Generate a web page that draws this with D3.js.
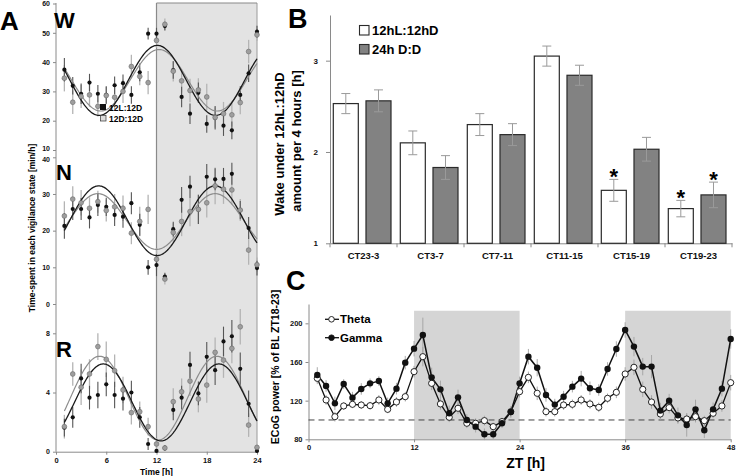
<!DOCTYPE html>
<html><head><meta charset="utf-8">
<script src="https://cdn.jsdelivr.net/npm/d3@7"></script>
<style>
body{margin:0;background:#fff}
svg{display:block;font-family:"Liberation Sans",Arial,sans-serif;font-weight:bold}
</style>
</head><body><script>
// ---------- Panel A data ----------
const hoursA = [1,2,3,4,5,6,7,8,9,10,11,12,13,14,15,16,17,18,19,20,21,22,23,24];
const wBlack = [37.4,31.9,29.2,33.0,29.2,28.8,32.1,32.8,28.8,36.5,49.7,49.7,52.3,37.3,28.1,22.4,29.5,18.9,21.0,18.3,16.7,28.8,36.2,50.4];
const wBlackErr = [4,3,3.5,3,3,3,3,3,3,3,2,2,1.5,3,3.5,3.5,3.5,3,4,3.5,3,3,3,2];
const wGray = [34.5,26.3,28.3,28.8,24.9,28.6,28.0,30.0,38.5,35.1,33.0,47.4,52.9,36.9,33.6,30.3,30.5,28.1,21.1,22.4,22.0,26.2,43.6,49.3];
const wGrayErr = [4.5,4,4,4,3.5,3,4,4,4,3,4,2.5,2,3.5,4,4,4,4.5,3.5,4,4,4,4,2];
const nBlack = [21.3,25.9,25.9,23.6,27.0,26.5,24.3,23.8,27.5,21.6,10.0,10.6,7.5,20.4,28.4,32.0,25.8,34.7,34.0,34.1,35.5,25.6,20.7,9.8];
const nBlackErr = [3.5,3,3,3,3,2.5,3,3,3,3,2,3,1,2,3.5,3,4,3.5,3,3,3,2.5,3,2];
const nGray = [24.0,28.6,27.6,26.1,27.9,25.5,26.5,26.1,19.3,22.5,25.8,12.2,6.8,19.5,22.5,25.2,25.8,27.6,32.2,31.3,31.1,25.6,14.7,10.7];
const nGrayErr = [4,3.5,3.5,3,3,3,3.5,3.5,3,4,4,3,1.5,2.5,4,4,4,4,5,4,4,3,4,2];
const rBlack = [1.62,2.32,4.95,3.65,3.83,4.55,3.83,3.58,4.0,2.32,0.52,0.05,0.25,2.82,3.65,5.86,3.94,6.41,5.51,7.45,7.8,5.6,3.24,0.05];
const rBlackErr = [0.6,0.7,1.0,0.8,0.9,0.8,0.9,0.8,0.8,0.7,0.4,0.1,0.2,0.7,0.8,0.9,0.8,1.0,1.0,1.0,1.1,1.1,0.9,0.1];
const rGray = [1.69,5.25,4.35,5.25,7.1,6.24,5.47,4.17,2.64,2.7,1.69,0.52,0.25,3.38,4.05,4.77,3.56,4.5,6.71,6.19,6.98,8.44,1.8,0.29];
const rGrayErr = [0.8,0.8,1.2,1.0,0.9,1.2,1.1,0.9,0.8,0.7,0.6,0.4,0.2,0.9,0.9,1.0,0.9,1.2,1.0,1.2,1.0,1.2,0.8,0.2];
// cosinor fits: [mesor, amplitude, acrophase (h), period (h)]
const fitWBlack = [33.75,11.95,12.1,13.9];
const fitWGray  = [33.8,10.5,12.3,13.9];
const fitNBlack = [22.7,9.5,5.1,13.9];
const fitNGray  = [22.5,7.6,5.0,14.0];
const fitRBlack = [3.33,2.6,5.65,13.8];
const fitRGray  = [3.62,2.83,5.2,14.0];
const ticksW = [10,20,30,40,50,60];
const ticksN = [0,10,20,30,40];
const ticksR = [0,4,8];
const ticksTimeA = [0,6,12,18,24];
const legendA = ["12L:12D","12D:12D"];

// ---------- Panel B data ----------
const phaseCats = ["CT23-3","CT3-7","CT7-11","CT11-15","CT15-19","CT19-23"];
const seriesB = ["12hL:12hD","24h D:D"];
const wakeLD = [2.53,2.10,2.30,3.05,1.58,1.38];
const wakeLDErr = [0.11,0.13,0.12,0.11,0.12,0.09];
const wakeDD = [2.56,1.83,2.19,2.84,2.03,1.53];
const wakeDDErr = [0.12,0.13,0.12,0.11,0.13,0.14];
const starLD = [false,false,false,false,true,true];
const starDD = [false,false,false,false,false,true];
const ticksB = [1,2,3];

// ---------- Panel C data ----------
const ztHours = [1,2,3,4,5,6,7,8,9,10,11,12,13,14,15,16,17,18,19,20,21,22,23,24,25,26,27,28,29,30,31,32,33,34,35,36,37,38,39,40,41,42,43,44,45,46,47,48];
const gamma = [146.6,135.2,117.2,137.2,123.1,132.1,137.9,140.3,117.2,132.4,159.3,173.8,187.9,144.1,131.7,106.9,123.4,100,93.1,85.2,85.2,96.6,108.3,137.9,165.5,154.1,125.9,115.9,124.1,134.5,142.8,132.8,131.0,152.8,173.4,193.1,175.9,155.2,155.2,109.7,120.0,104.8,94.8,111.0,89.3,111.0,132.4,183.8];
const gammaErr = [8,6,7,5,6,6,5,5,6,6,7,8,18,10,9,8,8,6,6,6,5,5,6,7,8,9,7,6,6,6,8,7,6,7,8,8,10,9,12,8,7,8,12,10,8,7,8,10];
const theta = [143.1,120.7,103.4,114.5,116.2,115.5,114.8,120.7,111.0,118.6,124.1,150.0,165.5,137.9,116.6,102.8,112.1,96.6,96.6,99.3,93.1,98.3,108.6,129.3,144.1,127.6,108.6,108.6,115.5,116.2,120.7,116.6,113.1,122.4,128.6,147.6,154.5,131.7,118.6,106.2,112.8,102.1,101.0,103.4,99.3,106.9,114.5,138.6];
const thetaErr = [6,5,5,4,4,4,4,5,4,5,5,6,10,7,6,5,6,5,5,5,4,4,5,6,6,7,5,5,5,5,5,5,5,5,6,7,8,8,7,6,6,6,6,6,5,5,6,8];
const darkC = [[12,24],[36,48]];
const ticksZT = [0,12,24,36,48];
const ticksC = [80,120,160,200];
const legendC = ["Theta","Gamma"];

// ---------- drawing ----------
const svg = d3.select("body").append("svg").attr("width",736).attr("height",476);
svg.append("rect").attr("width",736).attr("height",476).attr("fill","#fff");

function styleAxis(g, fs){
  g.selectAll("path.domain").attr("stroke","#8a8a8a");
  g.selectAll(".tick line").attr("stroke","#8a8a8a");
  g.selectAll(".tick text").attr("fill","#111").style("font-size",fs+"px").style("font-weight","bold")
   .style("font-family",'"Liberation Sans",Arial,sans-serif');
}

// ===== Panel A =====
const xA = d3.scaleLinear().domain([0,24]).range([56,257]);
const yW = d3.scaleLinear().domain([10,60]).range([150,3.5]);
const yN = d3.scaleLinear().domain([0,40]).range([304,157.3]);
const yR = d3.scaleLinear().domain([0,10]).range([451.7,303.7]);
const gA = svg.append("g");
gA.append("rect").attr("x",xA(12)).attr("y",3).attr("width",xA(24)-xA(12)).attr("height",yR(0)-3).attr("fill","#e3e3e3");
gA.append("line").attr("x1",xA(12)).attr("x2",xA(12)).attr("y1",3).attr("y2",yR(0)).attr("stroke","#8a8a8a").attr("stroke-width",1.2);
gA.append("line").attr("x1",xA(24)).attr("x2",xA(24)).attr("y1",3).attr("y2",yR(0)).attr("stroke","#9a9a9a");
gA.append("line").attr("x1",xA(12)).attr("x2",xA(24)).attr("y1",3).attr("y2",3).attr("stroke","#8a8a8a").attr("stroke-width",1.2);
gA.append("line").attr("x1",56).attr("x2",56).attr("y1",3).attr("y2",yR(0)).attr("stroke","#8a8a8a");

[[yW,ticksW,"W"],[yN,ticksN,"N"],[yR,ticksR,"R"]].forEach(([y,t,k])=>{
  const ax = gA.append("g").attr("transform","translate(56,0)")
    .call(d3.axisLeft(y).tickValues(t).tickSize(3).tickPadding(3));
  ax.select("path.domain").remove();
  styleAxis(ax,7);
  // separate the stacked "10" (W) and "40" (N) labels slightly, as in the original
  ax.selectAll(".tick text").attr("dy", d => (k==="W" && d===10) ? "0.1em" : (k==="N" && d===40) ? "0.55em" : "0.32em");
});
const axBA = gA.append("g").attr("transform",`translate(0,${yR(0)})`)
  .call(d3.axisBottom(xA).tickValues(ticksTimeA).tickSize(3).tickSizeOuter(0).tickPadding(3));
styleAxis(axBA,7.5);

const fitLine = (p, y) => {
  const ts = d3.range(1, 24.001, 0.1);
  return d3.line().x(t=>xA(t)).y(t=>y(p[0]+p[1]*Math.cos(2*Math.PI*(t-p[2])/p[3])))(ts);
};
const panelsA = [
  {y:yW, b:wBlack, be:wBlackErr, g:wGray, ge:wGrayErr, fb:fitWBlack, fg:fitWGray},
  {y:yN, b:nBlack, be:nBlackErr, g:nGray, ge:nGrayErr, fb:fitNBlack, fg:fitNGray},
  {y:yR, b:rBlack, be:rBlackErr, g:rGray, ge:rGrayErr, fb:fitRBlack, fg:fitRGray}
];
panelsA.forEach(P=>{
  const y = P.y;
  gA.append("g").selectAll("line").data(hoursA).join("line")
    .attr("x1",(d)=>xA(d)).attr("x2",(d)=>xA(d))
    .attr("y1",(d,i)=>y(P.g[i]-P.ge[i])).attr("y2",(d,i)=>y(P.g[i]+P.ge[i]))
    .attr("stroke","#b4b4b4").attr("stroke-width",1.3);
  gA.append("g").selectAll("line").data(hoursA).join("line")
    .attr("x1",(d)=>xA(d)).attr("x2",(d)=>xA(d))
    .attr("y1",(d,i)=>y(P.b[i]-P.be[i])).attr("y2",(d,i)=>y(P.b[i]+P.be[i]))
    .attr("stroke","#555").attr("stroke-width",1.1);
  gA.append("path").attr("d",fitLine(P.fg,y)).attr("fill","none").attr("stroke","#8c8c8c").attr("stroke-width",1.2);
  gA.append("path").attr("d",fitLine(P.fb,y)).attr("fill","none").attr("stroke","#1a1a1a").attr("stroke-width",1.3);
  gA.append("g").selectAll("circle").data(hoursA).join("circle")
    .attr("cx",d=>xA(d)).attr("cy",(d,i)=>y(P.b[i])).attr("r",2.1).attr("fill","#111");
  gA.append("g").selectAll("circle").data(hoursA).join("circle")
    .attr("cx",d=>xA(d)).attr("cy",(d,i)=>y(P.g[i])).attr("r",2.4).attr("fill","#9e9e9e").attr("stroke","#6a6a6a").attr("stroke-width",0.6);
});
[["W",54,28],["N",56,180],["R",56,357]].forEach(([t,x,y])=>{
  gA.append("text").attr("x",x).attr("y",y).text(t).style("font-size","22px").attr("fill","#000");
});
gA.append("text").attr("x",0).attr("y",30).text("A").style("font-size","26px");
// legend A
gA.append("rect").attr("x",100).attr("y",104).attr("width",6).attr("height",6).attr("fill","#111");
gA.append("rect").attr("x",100.5).attr("y",115.5).attr("width",5.5).attr("height",5.5).attr("fill","#ddd").attr("stroke","#333").attr("stroke-width",0.7);
gA.append("text").attr("x",109).attr("y",110.5).text(legendA[0]).style("font-size","8.5px");
gA.append("text").attr("x",109).attr("y",121.5).text(legendA[1]).style("font-size","8.5px");
gA.append("text").attr("x",xA(12)).attr("y",474.5).attr("text-anchor","middle").text("Time [h]").style("font-size","8.5px");
gA.append("text").attr("transform","translate(35,228) rotate(-90)").attr("text-anchor","middle")
  .text("Time-spent in each vigilance state [min/h]").style("font-size","8.5px");

// ===== Panel B =====
const xB = d3.scaleBand().domain(phaseCats).range([330,732]);
const xSub = d3.scaleBand().domain(seriesB).range([3.3,61]).paddingInner(0.235);
const yB = d3.scaleLinear().domain([1,3.5]).range([243.3,15]);
const gB = svg.append("g");
const axBL = gB.append("g").attr("transform","translate(330,0)")
  .call(d3.axisLeft(yB).tickValues(ticksB).tickFormat(d3.format("d")).tickSize(4).tickSizeOuter(0).tickPadding(8));
styleAxis(axBL,8);
const axBB = gB.append("g").attr("transform",`translate(0,${yB(1)})`)
  .call(d3.axisBottom(xB).tickSize(0).tickPadding(9));
styleAxis(axBB,9.5);
// boundary ticks
gB.append("g").selectAll("line").data(phaseCats.concat(["end"])).join("line")
  .attr("x1",(d,i)=> i<phaseCats.length ? xB(d) : xB.range()[1])
  .attr("x2",(d,i)=> i<phaseCats.length ? xB(d) : xB.range()[1])
  .attr("y1",yB(1)).attr("y2",yB(1)+4).attr("stroke","#8a8a8a");
const barSets = [
  {s:seriesB[0], v:wakeLD, e:wakeLDErr, fill:"#fff", star:starLD},
  {s:seriesB[1], v:wakeDD, e:wakeDDErr, fill:"#828282", star:starDD}
];
barSets.forEach(S=>{
  const bx = c => xB(c)+xSub(S.s);
  gB.append("g").selectAll("rect").data(phaseCats).join("rect")
    .attr("x",d=>bx(d)).attr("width",xSub.bandwidth())
    .attr("y",(d,i)=>yB(S.v[i])).attr("height",(d,i)=>yB(1)-yB(S.v[i]))
    .attr("fill",S.fill).attr("stroke","#2a2a2a").attr("stroke-width",1.2);
  const cx = c => bx(c)+xSub.bandwidth()/2;
  const eg = gB.append("g").attr("stroke","#9a9a9a").attr("stroke-width",1);
  eg.selectAll("line.v").data(phaseCats).join("line").attr("class","v")
    .attr("x1",d=>cx(d)).attr("x2",d=>cx(d))
    .attr("y1",(d,i)=>yB(S.v[i]-S.e[i])).attr("y2",(d,i)=>yB(S.v[i]+S.e[i]));
  ["lo","hi"].forEach((k,j)=>{
    eg.selectAll("line."+k).data(phaseCats).join("line").attr("class",k)
      .attr("x1",d=>cx(d)-4.5).attr("x2",d=>cx(d)+4.5)
      .attr("y1",(d,i)=>yB(S.v[i]+(j?1:-1)*S.e[i])).attr("y2",(d,i)=>yB(S.v[i]+(j?1:-1)*S.e[i]));
  });
  gB.append("g").selectAll("text").data(phaseCats.filter((d,i)=>S.star[i])).join("text")
    .attr("x",d=>cx(d)).attr("text-anchor","middle")
    .attr("y",d=>{const i=phaseCats.indexOf(d);return yB(S.v[i]+S.e[i])+5;})
    .text("*").style("font-size","22px");
});
gB.append("text").attr("x",288).attr("y",28).text("B").style("font-size","27px");
gB.append("rect").attr("x",359.5).attr("y",25.5).attr("width",9.5).attr("height",9.5).attr("fill","#fff").attr("stroke","#2a2a2a").attr("stroke-width",1.1);
gB.append("rect").attr("x",359.5).attr("y",44.5).attr("width",9.5).attr("height",9.5).attr("fill","#828282").attr("stroke","#2a2a2a").attr("stroke-width",1.1);
gB.append("text").attr("x",372).attr("y",35).text(seriesB[0]).style("font-size","13px");
gB.append("text").attr("x",372).attr("y",54).text(seriesB[1]).style("font-size","13px");
gB.append("text").attr("transform","translate(284,144) rotate(-90)").attr("text-anchor","middle")
  .text("Wake under 12hL:12hD").style("font-size","13px");
gB.append("text").attr("transform","translate(301,141) rotate(-90)").attr("text-anchor","middle")
  .text("amount per 4 hours [h]").style("font-size","13px");

// ===== Panel C =====
const xC = d3.scaleLinear().domain([0,48]).range([308.5,730.7]);
const yC = d3.scaleLinear().domain([80,220]).range([439.3,304]);
const gC = svg.append("g");
gC.append("g").selectAll("rect").data(darkC).join("rect")
  .attr("x",d=>xC(d[0])).attr("width",d=>xC(d[1])-xC(d[0]))
  .attr("y",yC(213)).attr("height",yC(80)-yC(213)).attr("fill","#d5d5d5");
const axCL = gC.append("g").attr("transform",`translate(${xC(0)},0)`)
  .call(d3.axisLeft(yC).tickValues(ticksC).tickSize(3).tickSizeOuter(0).tickPadding(3));
styleAxis(axCL,7.5);
const axCB = gC.append("g").attr("transform",`translate(0,${yC(80)})`)
  .call(d3.axisBottom(xC).tickValues(ticksZT).tickSize(3).tickSizeOuter(0).tickPadding(2));
styleAxis(axCB,7.5);
gC.append("line").attr("x1",xC(0)).attr("x2",xC(48)).attr("y1",yC(100)).attr("y2",yC(100))
  .attr("stroke","#444").attr("stroke-width",1).attr("stroke-dasharray","6,4");
[[gamma,gammaErr],[theta,thetaErr]].forEach(([v,e])=>{
  gC.append("g").selectAll("line").data(ztHours).join("line")
    .attr("x1",d=>xC(d)).attr("x2",d=>xC(d))
    .attr("y1",(d,i)=>yC(v[i]-e[i])).attr("y2",(d,i)=>yC(v[i]+e[i]))
    .attr("stroke","#a0a0a0").attr("stroke-width",0.9);
});
const lineC = vals => d3.line().x(d=>xC(d)).y((d,i)=>yC(vals[i]))(ztHours);
gC.append("path").attr("d",lineC(theta)).attr("fill","none").attr("stroke","#111").attr("stroke-width",1.3);
gC.append("path").attr("d",lineC(gamma)).attr("fill","none").attr("stroke","#111").attr("stroke-width",1.5);
gC.append("g").selectAll("circle").data(ztHours).join("circle")
  .attr("cx",d=>xC(d)).attr("cy",(d,i)=>yC(theta[i])).attr("r",3.1).attr("fill","#fff").attr("stroke","#111").attr("stroke-width",0.9);
gC.append("g").selectAll("circle").data(ztHours).join("circle")
  .attr("cx",d=>xC(d)).attr("cy",(d,i)=>yC(gamma[i])).attr("r",3.2).attr("fill","#111");
gC.append("text").attr("x",286).attr("y",290).text("C").style("font-size","27px");
// legend C
[[legendC[0],319.3,"#fff"],[legendC[1],337.7,"#111"]].forEach(([t,y,f])=>{
  gC.append("line").attr("x1",325).attr("x2",339).attr("y1",y).attr("y2",y).attr("stroke","#111").attr("stroke-width",1.3);
  gC.append("circle").attr("cx",331.5).attr("cy",y).attr("r",2.8).attr("fill",f).attr("stroke","#111").attr("stroke-width",0.9);
  gC.append("text").attr("x",340).attr("y",y+4).text(t).style("font-size","11.5px");
});
gC.append("text").attr("x",xC(24)+6).attr("y",468).attr("text-anchor","middle").text("ZT [h]").style("font-size","14px");
gC.append("text").attr("transform","translate(279,367) rotate(-90)").attr("text-anchor","middle")
  .text("ECoG power [% of BL ZT18-23]").style("font-size","10.5px");
</script></body></html>
